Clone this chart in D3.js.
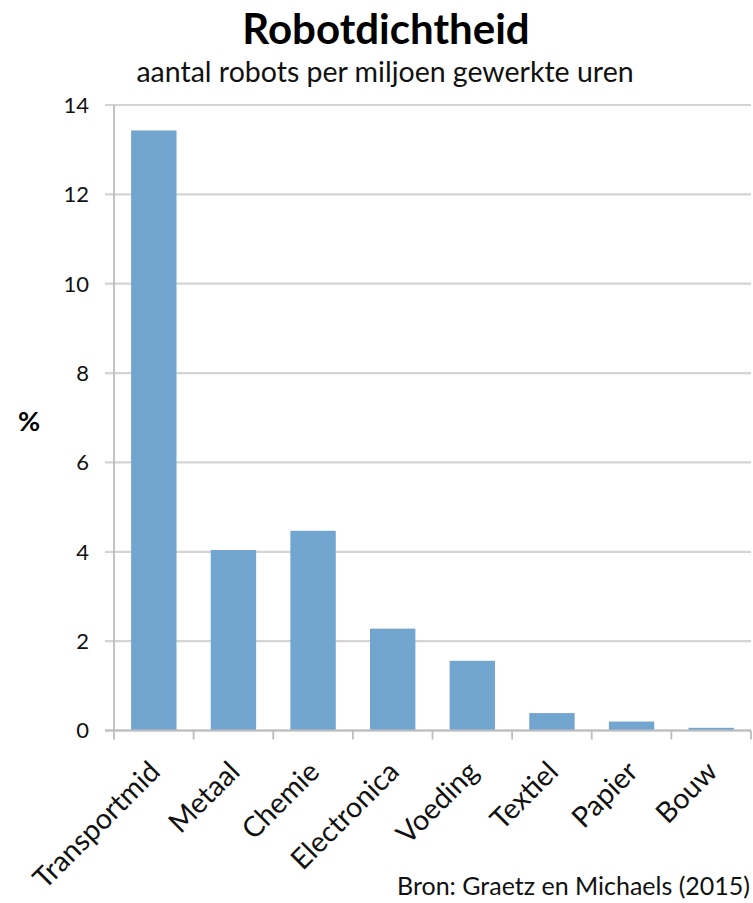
<!DOCTYPE html>
<html>
<head>
<meta charset="utf-8">
<script src="https://cdn.jsdelivr.net/npm/d3@7"></script>
<style>
  html, body { margin: 0; padding: 0; background: #fff; }
  svg { display: block; font-family: Lato, "Open Sans", sans-serif; }
</style>
</head>
<body>
<svg id="chart" width="753" height="903"></svg>
<script>
// Robot density per industry (robots per million hours worked)
const categories = ["Transportmid", "Metaal", "Chemie", "Electronica", "Voeding", "Textiel", "Papier", "Bouw"];
const values = [13.43, 4.04, 4.47, 2.28, 1.56, 0.39, 0.20, 0.06];
const yTicks = [0, 2, 4, 6, 8, 10, 12, 14];

const svg = d3.select("#chart");
const margin = { left: 114, right: 2, top: 105, bottom: 173 };
const width = 753, height = 903;

const x = d3.scaleBand()
  .domain(categories)
  .range([margin.left, width - margin.right])
  .paddingInner(0.43)
  .paddingOuter(0.215);

const y = d3.scaleLinear()
  .domain([0, 14])
  .range([height - margin.bottom + 0.5, margin.top]);

// Horizontal gridlines
svg.append("g")
  .selectAll("line")
  .data(yTicks)
  .join("line")
  .attr("x1", margin.left - 9)
  .attr("x2", width - margin.right)
  .attr("y1", d => y(d))
  .attr("y2", d => y(d))
  .attr("stroke", "#d4d4d4")
  .attr("stroke-width", 2.2);

// Y tick labels
svg.append("g")
  .selectAll("text")
  .data(yTicks)
  .join("text")
  .attr("x", 89)
  .attr("y", d => y(d))
  .attr("dy", "0.36em")
  .attr("text-anchor", "end")
  .attr("font-size", 22)
  .attr("fill", "#111")
  .text(d => d);

// Bars
svg.append("g")
  .selectAll("rect")
  .data(categories.map((c, i) => ({ c, v: values[i] })))
  .join("rect")
  .attr("x", d => x(d.c))
  .attr("width", x.bandwidth())
  .attr("y", d => y(d.v))
  .attr("height", d => y(0) - y(d.v))
  .attr("fill", "#72a6d0");

// Vertical axis line
svg.append("line")
  .attr("x1", margin.left).attr("x2", margin.left)
  .attr("y1", y(14)).attr("y2", y(0) + 9)
  .attr("stroke", "#bdbdbd").attr("stroke-width", 1.8);

// Baseline with category separator ticks
svg.append("line")
  .attr("x1", margin.left - 9).attr("x2", width - margin.right)
  .attr("y1", y(0)).attr("y2", y(0))
  .attr("stroke", "#bdbdbd").attr("stroke-width", 2);

const step = x.step();
const sepX = d3.range(1, categories.length + 1).map(i => margin.left + i * step);
svg.append("g")
  .selectAll("line")
  .data(sepX)
  .join("line")
  .attr("x1", d => d).attr("x2", d => d)
  .attr("y1", y(0)).attr("y2", y(0) + 9)
  .attr("stroke", "#bdbdbd").attr("stroke-width", 1.8);

// Rotated category labels
svg.append("g")
  .selectAll("text")
  .data(categories)
  .join("text")
  .attr("transform", d => `translate(${x(d) + x.bandwidth() / 2 + 8},${y(0) + 43}) rotate(-45)`)
  .attr("text-anchor", "end")
  .attr("font-size", 28.5)
  .attr("fill", "#111")
  .text(d => d);

// Titles
svg.append("text")
  .attr("x", 386).attr("y", 44)
  .attr("text-anchor", "middle")
  .attr("font-size", 42)
  .attr("font-weight", "bold")
  .attr("fill", "#000")
  .text("Robotdichtheid");

svg.append("text")
  .attr("x", 385).attr("y", 82)
  .attr("text-anchor", "middle")
  .attr("font-size", 28.5)
  .attr("fill", "#111")
  .text("aantal robots per miljoen gewerkte uren");

// Y axis unit label
svg.append("text")
  .attr("x", 29).attr("y", 431)
  .attr("text-anchor", "middle")
  .attr("font-size", 27)
  .attr("font-weight", "bold")
  .attr("fill", "#000")
  .text("%");

// Source note
svg.append("text")
  .attr("x", 750).attr("y", 895)
  .attr("text-anchor", "end")
  .attr("font-size", 25)
  .attr("fill", "#111")
  .text("Bron: Graetz en Michaels (2015)");
</script>
</body>
</html>
